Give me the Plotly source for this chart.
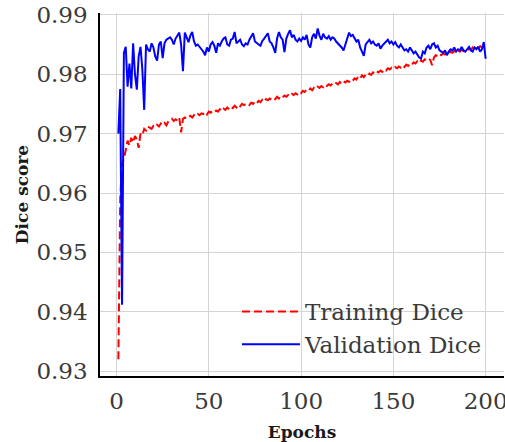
import plotly.graph_objects as go

epochs = list(range(1, 201))

training_dice = [
    0.9320, 0.9590, 0.9650, 0.9658, 0.9672, 0.9688, 0.9680, 0.9693, 0.9685, 0.9696,
    0.9690, 0.9676, 0.9700, 0.9697, 0.9708, 0.9705, 0.9712, 0.9710, 0.9708, 0.9713,
    0.9711, 0.9715, 0.9712, 0.9717, 0.9714, 0.9718, 0.9714, 0.9720, 0.9722, 0.9725,
    0.9721, 0.9724, 0.9722, 0.9727, 0.9702, 0.9725, 0.9727, 0.9725, 0.9728, 0.9730,
    0.9727, 0.9731, 0.9729, 0.9733, 0.9731, 0.9734, 0.9733, 0.9736, 0.9732, 0.9737,
    0.9735, 0.9738, 0.9736, 0.9739, 0.9737, 0.9741, 0.9738, 0.9742, 0.9740, 0.9744,
    0.9741, 0.9745, 0.9743, 0.9747, 0.9744, 0.9749, 0.9746, 0.9750, 0.9748, 0.9749,
    0.9751, 0.9748, 0.9752, 0.9750, 0.9754, 0.9751, 0.9755, 0.9753, 0.9757, 0.9754,
    0.9758, 0.9756, 0.9759, 0.9757, 0.9760, 0.9758, 0.9762, 0.9759, 0.9763, 0.9761,
    0.9764, 0.9762, 0.9765, 0.9763, 0.9767, 0.9765, 0.9768, 0.9766, 0.9770, 0.9768,
    0.9772, 0.9770, 0.9774, 0.9772, 0.9776, 0.9773, 0.9777, 0.9775, 0.9779, 0.9777,
    0.9780, 0.9778, 0.9782, 0.9780, 0.9783, 0.9781, 0.9784, 0.9782, 0.9785, 0.9783,
    0.9787, 0.9784, 0.9788, 0.9786, 0.9789, 0.9787, 0.9791, 0.9789, 0.9793, 0.9791,
    0.9796, 0.9793, 0.9798, 0.9795, 0.9799, 0.9797, 0.9801, 0.9799, 0.9803, 0.9801,
    0.9805, 0.9803, 0.9806, 0.9804, 0.9808, 0.9806, 0.9810, 0.9808, 0.9811, 0.9809,
    0.9812, 0.9810, 0.9813, 0.9811, 0.9815, 0.9812, 0.9816, 0.9814, 0.9818, 0.9816,
    0.9820, 0.9818, 0.9822, 0.9819, 0.9823, 0.9821, 0.9825, 0.9823, 0.9826, 0.9824,
    0.9815, 0.9828, 0.9832, 0.9830, 0.9834, 0.9832, 0.9835, 0.9833, 0.9836, 0.9834,
    0.9838, 0.9836, 0.9839, 0.9837, 0.9840, 0.9838, 0.9841, 0.9839, 0.9842, 0.9840,
    0.9843, 0.9841, 0.9845, 0.9843, 0.9846, 0.9844, 0.9847, 0.9845, 0.9849, 0.9848,
]

validation_dice = [
    0.9700, 0.9775, 0.9412, 0.9836, 0.9846, 0.9779, 0.9818, 0.9776, 0.9852, 0.9800,
    0.9774, 0.9830, 0.9846, 0.9808, 0.9740, 0.9850, 0.9842, 0.9838, 0.9852, 0.9845,
    0.9830, 0.9823, 0.9850, 0.9855, 0.9827, 0.9852, 0.9858, 0.9860, 0.9862, 0.9858,
    0.9850, 0.9860, 0.9866, 0.9870, 0.9850, 0.9805, 0.9870, 0.9862, 0.9854, 0.9865,
    0.9871, 0.9855, 0.9848, 0.9850, 0.9845, 0.9842, 0.9838, 0.9832, 0.9845, 0.9838,
    0.9850, 0.9854, 0.9848, 0.9836, 0.9852, 0.9848, 0.9855, 0.9860, 0.9862, 0.9850,
    0.9848, 0.9858, 0.9860, 0.9871, 0.9852, 0.9855, 0.9858, 0.9850, 0.9847, 0.9852,
    0.9850, 0.9858, 0.9865, 0.9869, 0.9855, 0.9852, 0.9850, 0.9848, 0.9856, 0.9860,
    0.9865, 0.9869, 0.9855, 0.9852, 0.9845, 0.9836, 0.9860, 0.9871, 0.9862, 0.9858,
    0.9837, 0.9860, 0.9868, 0.9874, 0.9862, 0.9866, 0.9858, 0.9855, 0.9860, 0.9856,
    0.9862, 0.9858, 0.9866, 0.9850, 0.9845, 0.9862, 0.9868, 0.9860, 0.9877, 0.9865,
    0.9858, 0.9868, 0.9862, 0.9860, 0.9864, 0.9858, 0.9862, 0.9860, 0.9855, 0.9852,
    0.9848, 0.9845, 0.9840, 0.9852, 0.9860, 0.9870, 0.9864, 0.9866, 0.9860, 0.9855,
    0.9858, 0.9845, 0.9838, 0.9831, 0.9850, 0.9855, 0.9858, 0.9852, 0.9855, 0.9850,
    0.9848, 0.9852, 0.9843, 0.9848, 0.9852, 0.9856, 0.9858, 0.9852, 0.9855, 0.9850,
    0.9854, 0.9848, 0.9845, 0.9850, 0.9846, 0.9840, 0.9842, 0.9838, 0.9845, 0.9840,
    0.9835, 0.9838, 0.9832, 0.9828, 0.9826, 0.9838, 0.9835, 0.9845, 0.9848, 0.9842,
    0.9850, 0.9852, 0.9845, 0.9848, 0.9840, 0.9838, 0.9836, 0.9840, 0.9832, 0.9838,
    0.9842, 0.9840, 0.9845, 0.9838, 0.9842, 0.9840, 0.9846, 0.9840, 0.9838, 0.9842,
    0.9846, 0.9840, 0.9838, 0.9845, 0.9842, 0.9846, 0.9838, 0.9842, 0.9854, 0.9826,
]

x_ticks = [0, 50, 100, 150, 200]
y_ticks = [0.93, 0.94, 0.95, 0.96, 0.97, 0.98, 0.99]

SERIF = "DejaVu Serif, Liberation Serif, serif"
TEXT = "#3a3a3a"

fig = go.Figure()
fig.add_trace(go.Scatter(
    x=epochs, y=training_dice, mode="lines", name="Training Dice",
    line=dict(color="#ff0000", width=2, dash="8px,4px"),
))
fig.add_trace(go.Scatter(
    x=epochs, y=validation_dice, mode="lines", name="Validation Dice",
    line=dict(color="#0000ff", width=2),
))

fig.update_layout(
    width=505, height=442,
    margin=dict(l=100, r=1, t=13, b=66),
    paper_bgcolor="white", plot_bgcolor="white",
    font=dict(family=SERIF, color=TEXT, size=23),
    showlegend=True,
    legend=dict(
        x=0.339, y=0.237, xanchor="left", yanchor="top",
        bgcolor="rgba(0,0,0,0)", borderwidth=0, itemwidth=58,
        font=dict(family=SERIF, size=23, color=TEXT),
    ),
    xaxis=dict(
        range=[-8.95, 209.95], tickvals=x_ticks, automargin=False,
        showgrid=True, gridcolor="#d4d4d4", gridwidth=1,
        showline=True, linecolor="black", linewidth=1.5,
        zeroline=False, ticks="", ticklabelstandoff=4,
        ticklabeloverflow="allow",
        tickfont=dict(family=SERIF, size=23, color=TEXT),
        title=dict(text="<b>Epochs</b>", standoff=20,
                   font=dict(family=SERIF, size=17, color="#1a1a1a")),
    ),
    yaxis=dict(
        range=[0.9292, 0.9903], tickvals=y_ticks, tickformat=".2f", automargin=False,
        showgrid=True, gridcolor="#d4d4d4", gridwidth=1,
        showline=True, linecolor="black", linewidth=1.5,
        zeroline=False, ticks="", ticklabelstandoff=6,
        ticklabeloverflow="allow",
        tickfont=dict(family=SERIF, size=23, color=TEXT),
        title=dict(text="<b>Dice score</b>", standoff=3,
                   font=dict(family=SERIF, size=17, color="#1a1a1a")),
    ),
)

fig.write_html(
    "out.html",
    config={"displayModeBar": False},
    post_script="document.body.style.margin='0px';document.body.style.padding='0px';",
)
